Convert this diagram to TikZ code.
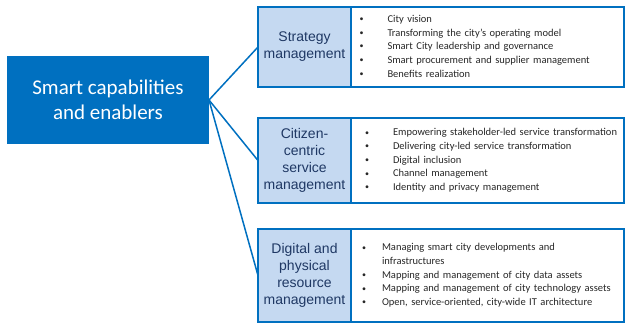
\documentclass[tikz,border=0pt]{standalone}
\usepackage{fontspec}
\setmainfont{Carlito}
\newfontfamily\arialfont{Liberation Sans}
\definecolor{capblue}{HTML}{0070C0}
\definecolor{areafill}{HTML}{C5D9F1}
\definecolor{areatext}{HTML}{1F3864}
\definecolor{itemtext}{HTML}{262626}
\newcommand{\bul}{\raisebox{0.15ex}{\footnotesize\textbullet}}

\begin{document}
\begin{tikzpicture}[x=1pt, y=-1pt, outer sep=0pt,
    mainbox/.style={fill=capblue, text=white, align=center, minimum width=202pt,
      minimum height=88pt, font=\fontsize{21}{25}\selectfont},
    areabox/.style={draw=capblue, line width=2pt, fill=areafill, text=areatext,
      align=center, minimum width=93pt, inner sep=0pt,
      font=\arialfont\fontsize{14}{17}\selectfont},
    listbox/.style={draw=capblue, line width=2pt, anchor=west, align=left,
      text=itemtext, font=\fontsize{10.5}{13.7}\selectfont},
    link/.style={draw=capblue, line width=1.5pt}]
    \useasboundingbox (0,0) rectangle (626,323);

    \node[mainbox] (core) at (108,100) {Smart capabilities\\and enablers};

    \node[areabox, minimum height=80pt] (strat) at (304.5,47) {Strategy\\management};
    \node[areabox, minimum height=85pt] (citiz) at (304.5,160.5) {Citizen-\\centric\\service\\management};
    \node[areabox, minimum height=93pt] (digit) at (304.5,275.5) {Digital and\\physical\\resource\\management};

    \node[listbox, minimum height=80pt, inner xsep=8.5pt, text width=256pt] (stratlist) at (strat.east) {%
      \begin{tabular}{@{}p{28pt}@{}l@{}}
        \bul & City vision\\
        \bul & Transforming the city's operating model\\
        \bul & Smart City leadership and governance\\
        \bul & Smart procurement and supplier management\\
        \bul & Benefits realization
      \end{tabular}};
    \node[listbox, minimum height=85pt, inner xsep=14pt, text width=245pt] (citizlist) at (citiz.east) {%
      \begin{tabular}{@{}p{28pt}@{}l@{}}
        \bul & Empowering stakeholder-led service transformation\\
        \bul & Delivering city-led service transformation\\
        \bul & Digital inclusion\\
        \bul & Channel management\\
        \bul & Identity and privacy management
      \end{tabular}};
    \node[listbox, minimum height=93pt, inner xsep=11pt, text width=251pt] (digitlist) at (digit.east) {%
      \begin{tabular}{@{}p{20pt}@{}l@{}}
        \bul & Managing smart city developments and\\
             & infrastructures\\
        \bul & Mapping and management of city data assets\\
        \bul & Mapping and management of city technology assets\\
        \bul & Open, service-oriented, city-wide IT architecture
      \end{tabular}};

    \draw[link] (core.east) -- (strat.west);
    \draw[link] (core.east) -- (citiz.west);
    \draw[link] (core.east) -- (digit.west);
  \end{tikzpicture}
\end{document}
